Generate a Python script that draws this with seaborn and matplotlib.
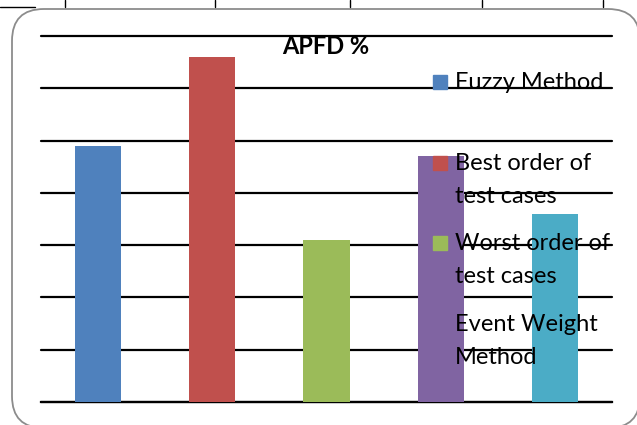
import matplotlib
matplotlib.use("Agg")
import matplotlib.pyplot as plt
from matplotlib.patches import FancyBboxPatch, Rectangle
from matplotlib.lines import Line2D
import seaborn as sns

# data (one gridline = 10)
methods = ["Fuzzy Method", "Best order of test cases", "Worst order of test cases",
           "Event Weight Method", "Other"]
values = [48.9, 66.0, 31.0, 47.0, 35.9]
colors = ["#4F81BD", "#C0504D", "#9BBB59", "#8064A2", "#4BACC6"]
legend_lines = [["Fuzzy Method"], ["Best order of", "test cases"],
                ["Worst order of", "test cases"], ["Event Weight", "Method"]]

W, H = 637, 425


def fx(x):
    return x / W


def fy(y):
    return 1 - y / H


sns.set_style("white")
plt.rcParams["font.family"] = ["Lato", "DejaVu Sans"]
plt.rcParams["text.color"] = "black"

fig = plt.figure(figsize=(W / 100, H / 100), dpi=100)
fig.patch.set_facecolor("white")

# document table stubs above the chart
for x in [65, 215, 350, 482, 603]:
    fig.add_artist(Line2D([fx(x), fx(x)], [fy(0), fy(7)], color="black", lw=1))
fig.add_artist(Line2D([fx(0), fx(35)], [fy(7), fy(7)], color="black", lw=1))

# rounded chart border (behind the axes)
border = FancyBboxPatch((fx(12), fy(428)), fx(640) - fx(12), fy(9) - fy(428),
                        boxstyle="round,pad=0,rounding_size=0.05",
                        facecolor="white", edgecolor="#8c8c8c", lw=1.3,
                        transform=fig.transFigure, clip_on=False,
                        mutation_aspect=W / H, zorder=-5)
fig.add_artist(border)

ax = fig.add_axes([fx(41), fy(402), fx(612) - fx(41), fy(36) - fy(402)])
ax.set_facecolor("none")
sns.barplot(x=methods, y=values, hue=methods, palette=colors, width=0.403,
            legend=False, saturation=1, linewidth=0, ax=ax, zorder=3)
ax.set_xlim(-0.5, 4.5)
ax.set_ylim(0, 70)
ax.set_yticks(range(0, 71, 10))
ax.set_axisbelow(True)
ax.yaxis.grid(True, color="black", lw=1.6)
for gl in ax.get_ygridlines():
    gl.set_clip_on(False)
ax.tick_params(left=False, bottom=False, labelleft=False, labelbottom=False)
for s in ["left", "right", "top"]:
    ax.spines[s].set_visible(False)
ax.spines["bottom"].set_color("black")
ax.spines["bottom"].set_linewidth(1.6)
ax.set_xlabel("")
ax.set_ylabel("")

fig.text(fx(326), fy(47), "APFD %", ha="center", va="center",
         fontsize=17, fontweight="bold", zorder=6)

# legend (only four entries fit, as in the original)
for i, lines in enumerate(legend_lines):
    top = 75 + i * 80.7
    fig.add_artist(Rectangle((fx(433), fy(top + 14)), fx(14), 14 / H,
                             transform=fig.transFigure, color=colors[i], zorder=5))
    for j, line in enumerate(lines):
        fig.text(fx(455), fy(top + 14 + j * 33), line, ha="left", va="baseline",
                 fontsize=17, zorder=6)

fig.savefig("out.png", dpi=100)
